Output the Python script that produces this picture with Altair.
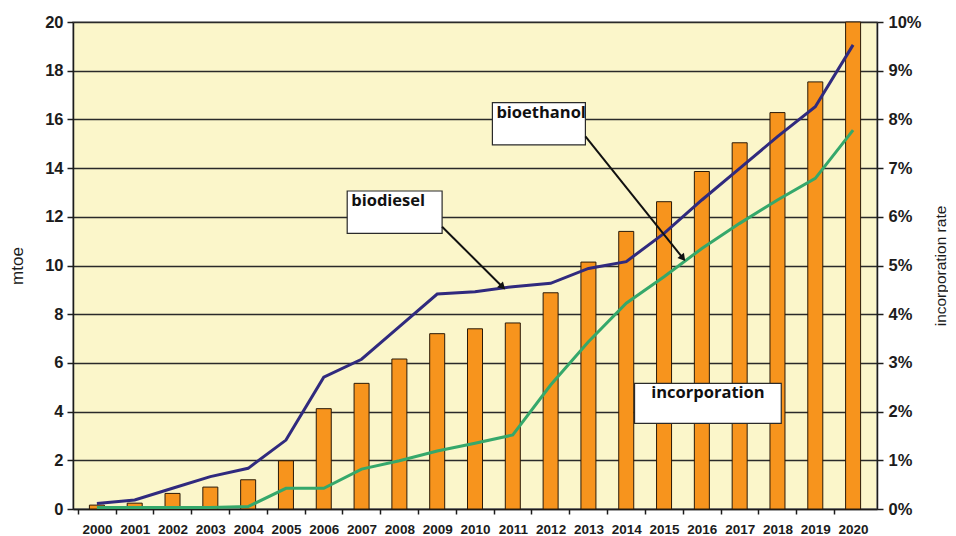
import altair as alt
import pandas as pd
import math

years = list(range(2000, 2021))
# incorporation rate (bars, right axis, fraction)
incorporation = [0.0008, 0.0012, 0.0032, 0.0045, 0.0060, 0.0099, 0.0206, 0.0258, 0.0308,
                 0.0360, 0.0370, 0.0382, 0.0444, 0.0507, 0.0570, 0.0631, 0.0693, 0.0752,
                 0.0814, 0.0877, 0.1000]
# biodiesel (mtoe)
biodiesel = [0.23, 0.37, 0.85, 1.33, 1.67, 2.83, 5.41, 6.15, 7.49, 8.83, 8.92, 9.13, 9.27,
             9.88, 10.16, 11.32, 12.69, 13.99, 15.29, 16.52, 19.06]
# bioethanol (mtoe)
bioethanol = [0.06, 0.06, 0.06, 0.06, 0.1, 0.85, 0.85, 1.64, 1.98, 2.38, 2.70, 3.04, 5.09,
              6.87, 8.45, 9.54, 10.70, 11.73, 12.69, 13.58, 15.56]

# annotation boxes (data coordinates: year, mtoe)
box_labels = ["biodiesel", "bioethanol", "incorporation"]
box_x1 = [2006.62, 2010.46, 2014.22]
box_x2 = [2009.13, 2012.92, 2018.10]
box_y1 = [13.06, 16.69, 5.16]
box_y2 = [11.32, 14.95, 3.52]
# arrows (data coordinates)
arrow_x1 = [2009.13, 2012.92]
arrow_y1 = [11.59, 15.30]
arrow_x2 = [2010.73, 2015.50]
arrow_y2 = [9.12, 10.30]

W, H = 804, 487
XMIN, XMAX = 1999.5, 2020.5
px_per_year = W / (XMAX - XMIN)
px_per_mtoe = H / 20.0

df = pd.DataFrame({"year": years, "rate": incorporation,
                   "biodiesel": biodiesel, "bioethanol": bioethanol})
boxes = pd.DataFrame({"label": box_labels, "x1": box_x1, "x2": box_x2,
                      "y1": box_y1, "y2": box_y2})
arrows = pd.DataFrame({"x1": arrow_x1, "y1": arrow_y1, "x2": arrow_x2, "y2": arrow_y2})
arrows["angle"] = [
    (math.degrees(math.atan2((x2 - x1) * px_per_year, (y2 - y1) * px_per_mtoe)) + 360) % 360
    for x1, y1, x2, y2 in zip(arrow_x1, arrow_y1, arrow_x2, arrow_y2)
]

FONT = "Liberation Sans"
DARK = "#1c1c1c"

xscale = alt.Scale(domain=[XMIN, XMAX], nice=False, zero=False)
yscale = alt.Scale(domain=[0, 20], nice=False)
half = px_per_year / 2

xaxis = alt.Axis(values=years, format="d", title=None, grid=False,
                 tickOffset=-half, labelOffset=half, tickSize=5, tickColor=DARK,
                 domainColor=DARK, domainWidth=1.5, tickWidth=1.5,
                 labelFont=FONT, labelFontWeight="bold", labelFontSize=13.5,
                 labelColor=DARK, labelPadding=8, labelFlush=False)

bars = alt.Chart(df).mark_bar(size=15, color="#F7941D", stroke="#2a1a08",
                              strokeWidth=1).encode(
    x=alt.X("year:Q", scale=xscale, axis=xaxis),
    y=alt.Y("rate:Q", scale=alt.Scale(domain=[0, 0.1], nice=False),
            axis=alt.Axis(orient="right", format=".0%", values=[i / 100 for i in range(11)],
                          title="incorporation rate", titleAngle=270, titleFont=FONT,
                          titleFontSize=15.5, titleFontWeight="normal", titleColor=DARK,
                          titlePadding=27, grid=False, tickSize=6, tickColor=DARK,
                          tickWidth=1.5, domainColor=DARK, domainWidth=1.5,
                          labelFont=FONT, labelFontWeight="bold", labelFontSize=16.5,
                          labelColor=DARK, labelPadding=5))
)

yaxis = alt.Axis(values=list(range(0, 21, 2)), title="mtoe", titleFont=FONT,
                 titleFontSize=17, titleFontWeight="normal", titleColor=DARK,
                 titlePadding=18, grid=True, gridColor="#2a2a2a", gridWidth=1.3,
                 tickSize=6, tickColor=DARK, tickWidth=1.5, domainColor=DARK,
                 domainWidth=1.5, labelFont=FONT, labelFontWeight="bold",
                 labelFontSize=16.5, labelColor=DARK, labelPadding=4)

grid_layer = alt.Chart(df).mark_line(opacity=0).encode(
    x=alt.X("year:Q", scale=xscale, axis=xaxis),
    y=alt.Y("biodiesel:Q", scale=yscale, axis=yaxis),
)

base_lines = alt.Chart(df).transform_fold(["biodiesel", "bioethanol"], as_=["fuel", "mtoe"])
lines = base_lines.mark_line(strokeWidth=3).encode(
    x=alt.X("year:Q", scale=xscale),
    y=alt.Y("mtoe:Q", scale=yscale),
    color=alt.Color("fuel:N", scale=alt.Scale(domain=["biodiesel", "bioethanol"],
                                              range=["#302a7e", "#35a86b"]), legend=None),
)

rects = alt.Chart(boxes).mark_rect(fill="white", stroke="#2a2a2a", strokeWidth=1.2).encode(
    x=alt.X("x1:Q", scale=xscale), x2="x2:Q",
    y=alt.Y("y1:Q", scale=yscale), y2="y2:Q",
)
left_texts = alt.Chart(boxes.iloc[:2]).mark_text(
    align="left", baseline="top", dx=4, dy=2, font="Open Sans", fontWeight="bold",
    fontSize=16.5, color="#111").encode(
    x=alt.X("x1:Q", scale=xscale), y=alt.Y("y1:Q", scale=yscale), text="label:N")
center_box = boxes.iloc[2:].assign(xc=lambda d: (d.x1 + d.x2) / 2)
center_text = alt.Chart(center_box).mark_text(
    align="center", baseline="top", dy=2, font="Open Sans", fontWeight="bold",
    fontSize=16.5, color="#111").encode(
    x=alt.X("xc:Q", scale=xscale), y=alt.Y("y1:Q", scale=yscale), text="label:N")

arrow_lines = alt.Chart(arrows).mark_rule(strokeWidth=2, color="#111").encode(
    x=alt.X("x1:Q", scale=xscale), x2="x2:Q",
    y=alt.Y("y1:Q", scale=yscale), y2="y2:Q")
arrow_heads = alt.Chart(arrows).mark_point(shape="triangle-up", filled=True, size=70,
                                           color="#111", opacity=1).encode(
    x=alt.X("x2:Q", scale=xscale), y=alt.Y("y2:Q", scale=yscale),
    angle=alt.Angle("angle:Q", scale=None))

left = alt.layer(grid_layer, lines, rects, left_texts, center_text, arrow_lines, arrow_heads)
chart = alt.layer(bars, left).resolve_scale(y="independent").properties(
    width=W, height=H,
    autosize=alt.AutoSizeParams(type="none"),
    padding={"left": 65, "top": 14, "right": 71, "bottom": 30},
    background="white",
).configure_view(fill="#FBF6CA", stroke="#9a9a9a", strokeWidth=1.5)

chart.save("out.html", embed_options={"renderer": "svg", "actions": False})
